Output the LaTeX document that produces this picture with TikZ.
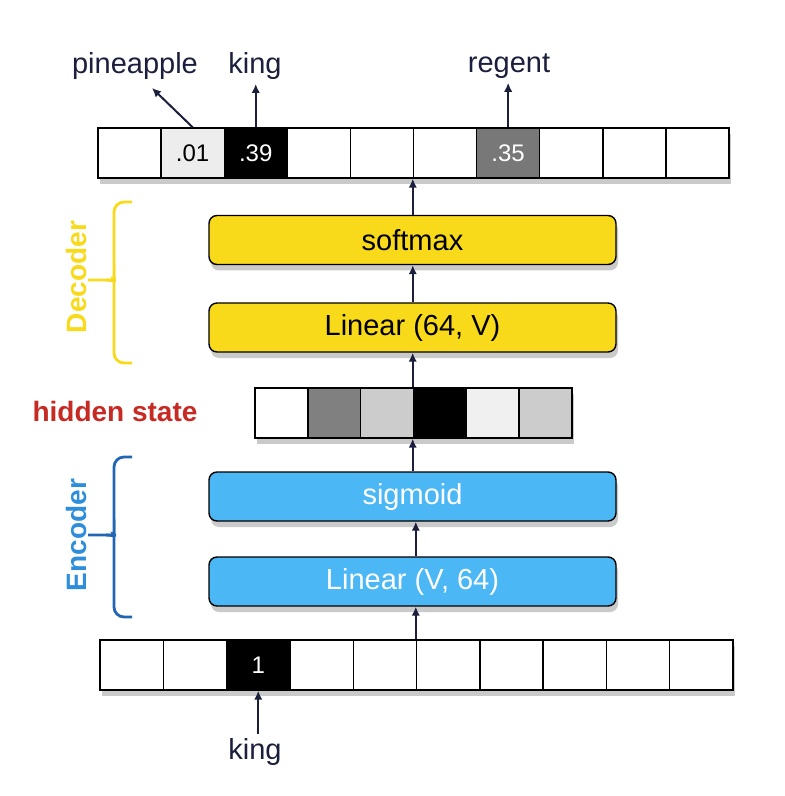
\documentclass[tikz,border=0pt]{standalone}
\usepackage{fontspec}
\setmainfont{Liberation Sans}
\usetikzlibrary{arrows.meta,shadows}

\definecolor{navy}{HTML}{1B1E3C}
\definecolor{decyellow}{HTML}{F8DA1A}
\definecolor{encblue}{HTML}{4BB7F5}
\definecolor{enctext}{HTML}{2E8EDC}
\definecolor{encdark}{HTML}{2166B4}
\definecolor{hidred}{HTML}{C62A22}

\tikzset{
  cell/.style={draw=black, line width=0.7pt, minimum height=25pt, inner sep=0pt,
    font=\fontsize{12}{14}\selectfont,
    drop shadow={shadow xshift=1pt, shadow yshift=-3pt, opacity=0.35, fill=black!60}},
  layer/.style={draw=black, line width=0.7pt, rounded corners=4pt, minimum width=203.5pt,
    minimum height=24.5pt, font=\fontsize{14.5}{16}\selectfont,
    drop shadow={shadow xshift=1pt, shadow yshift=-3pt, opacity=0.35, fill=black!60}},
  flow/.style={-{Latex[length=4.5pt,width=4.2pt]}, line width=1pt, draw=navy},
  word/.style={text=navy, font=\fontsize{14.5}{16}\selectfont, inner sep=2pt},
  side/.style={rotate=90, font=\fontsize{14}{16}\selectfont\bfseries},
}

\begin{document}
\begin{tikzpicture}[x=0.5pt,y=-0.5pt]
			\useasboundingbox (0,0) rectangle (784,796);
			
			%%%%% output vector %%%%%
			\foreach \i/\v/\c/\t in {1/{}/white/black, 2/.01/black!7/black, 3/.39/black/white, 4/{}/white/black, 5/{}/white/black,
				6/{}/white/black, 7/.35/black!53/white, 8/{}/white/black, 9/{}/white/black, 10/{}/white/black}
				\node[cell, minimum width=31.55pt, fill=\c, text=\t] (out\i) at ({98+63.1*(\i-0.5)}, 153) {\v};
			
			\node[word] (pine) at (135, 66) {pineapple};
			\node[word] (kingout) at (255, 66) {king};
			\node[word] (regent) at (509, 66) {regent};
			\coordinate (pinetip) at (152, 88);
			
			\draw[flow] (out2.north) -- (pinetip);
			\draw[flow] (out3.north) -- (out3.north |- kingout.south);
			\draw[flow] (out7.north) -- (out7.north |- regent.south);
			
			%%%%% decoder %%%%%
			\node[layer, fill=decyellow, text=black] (soft) at (412.5, 240) {softmax};
			\node[layer, fill=decyellow, text=black] (lindec) at (412.5, 327.5) {Linear (64, V)};
			
			\draw[decyellow, line width=1.4pt, rounded corners=5pt] (132, 202) -- (114, 202) -- (114, 272)
				.. controls (114, 278) and (112, 280) .. (106, 280) -- (88, 280);
			\draw[decyellow, line width=1.4pt, rounded corners=5pt] (106, 280) .. controls (112, 280) and (114, 282) .. (114, 288)
				-- (114, 363) -- (132, 363);
			\node[side, text=decyellow] (dectext) at (76, 277) {Decoder};
			
			%%%%% hidden state %%%%%
			\foreach \i/\c in {1/white, 2/black!50, 3/black!20, 4/black, 5/black!6, 6/black!20}
				\node[cell, minimum width=26.4pt, fill=\c] (h\i) at ({255+52.8*(\i-0.5)}, 413) {};
			\node[font=\fontsize{14}{16}\selectfont\bfseries, text=hidred] (hidlabel) at (115, 411) {hidden state};
			
			%%%%% encoder %%%%%
			\node[layer, fill=encblue, text=white] (sig) at (412.5, 496.5) {sigmoid};
			\node[layer, fill=encblue, text=white] (linenc) at (412.5, 581.5) {Linear (V, 64)};
			
			\draw[encdark, line width=1.4pt, rounded corners=5pt] (132, 457) -- (114, 457) -- (114, 527)
				.. controls (114, 533) and (112, 535) .. (106, 535) -- (88, 535);
			\draw[encdark, line width=1.4pt, rounded corners=5pt] (106, 535) .. controls (112, 535) and (114, 537) .. (114, 543)
				-- (114, 617) -- (132, 617);
			\node[side, text=enctext] (enctext) at (76, 535) {Encoder};
			
			%%%%% input vector %%%%%
			\foreach \i/\v/\c in {1/{}/white, 2/{}/white, 3/1/black, 4/{}/white, 5/{}/white,
				6/{}/white, 7/{}/white, 8/{}/white, 9/{}/white, 10/{}/white}
				\node[cell, minimum width=31.65pt, fill=\c, text=white] (in\i) at ({100+63.3*(\i-0.5)}, 665) {\v};
			
			\node[word] (kingin) at (255, 752) {king};
			
			%%%%% flow through the network %%%%%
			\draw[flow] (in3.south |- kingin.north) -- (in3.south);
			\draw[flow] (in6.north west) -- (linenc.south -| in6.north west);
			\draw[flow] (linenc.north -| in6.north west) -- (sig.south -| in6.north west);
			\draw[flow] (sig.north -| h4.south west) -- (h4.south west);
			\draw[flow] (h4.north west) -- (lindec.south -| h4.north west);
			\draw[flow] (lindec.north -| out6.south west) -- (soft.south -| out6.south west);
			\draw[flow] (soft.north -| out6.south west) -- (out6.south west);
			
		\end{tikzpicture}
\end{document}
